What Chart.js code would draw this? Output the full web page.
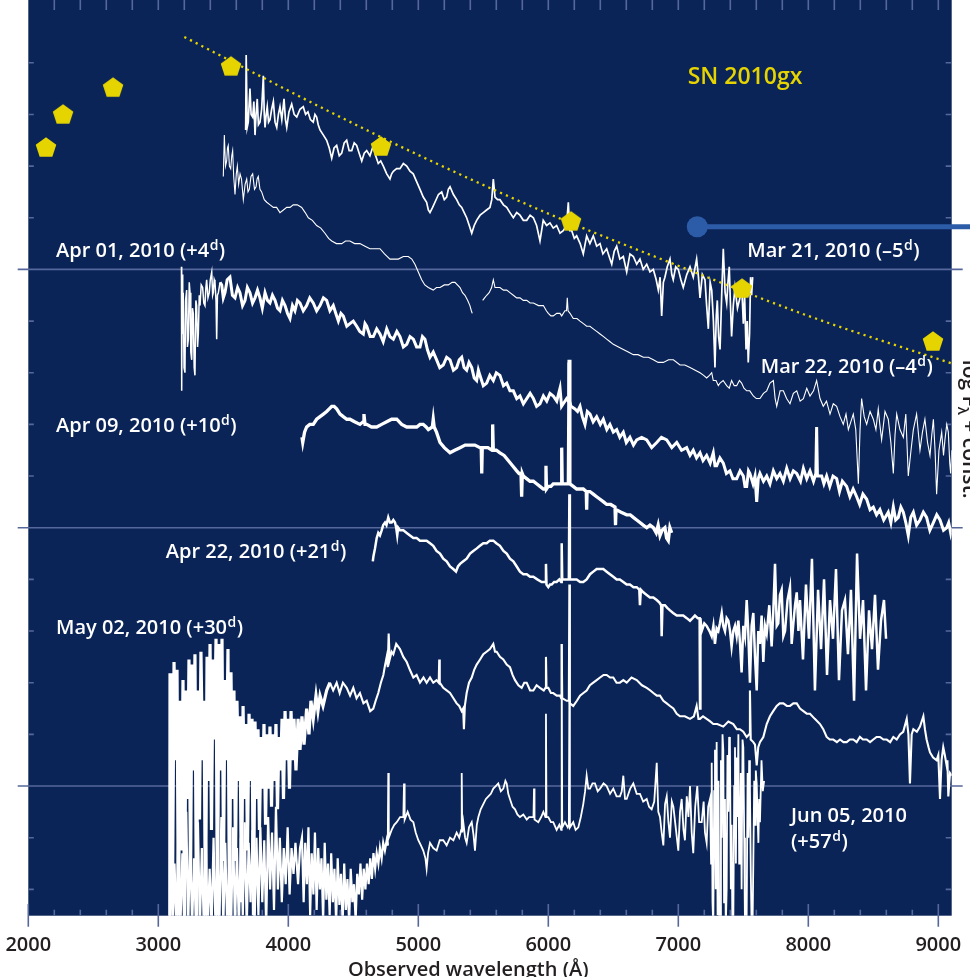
<!DOCTYPE html>
<html><head><meta charset="utf-8">
<script src="https://cdn.jsdelivr.net/npm/chart.js@4.4.1/dist/chart.umd.min.js"></script>
<style>html,body{margin:0;padding:0;background:#fff;}canvas{display:block;}</style>
</head><body>
<canvas id="c" width="970" height="977"></canvas>
<script>
// ---------------- DATA ----------------
// x: observed wavelength (Å), y: log F_lambda + const.
const wavelengthTicks = [2000, 3000, 4000, 5000, 6000, 7000, 8000, 9000];
const objectName = 'SN 2010gx';
const epochNames = ['Mar 21, 2010 (–5', 'Mar 22, 2010 (–4', 'Apr 01, 2010 (+4', 'Apr 09, 2010 (+10', 'Apr 22, 2010 (+21', 'May 02, 2010 (+30', 'Jun 05, 2010', '(+57'];

const photometry = [[2136,3.474],[2267,3.602],[2652,3.706],[3559,3.788],[4713,3.478],[6175,3.188],[7490,2.928],[8959,2.723]];
const fitCurve = [[3200,3.90],[3700,3.77],[4300,3.615],[5000,3.443],[6000,3.216],[7000,3.014],[8000,2.82],[9103,2.636]];
const markerLine = [[7146,3.165],[9300,3.165]];

const specMar21 = [[3672,3.54],[3676,3.83],[3684,3.55],[3692,3.57],[3705,3.70],[3714,3.60],[3726,3.59],[3735,3.65],[3744,3.52],[3752,3.60],[3761,3.66],[3770,3.56],[3782,3.57],[3795,3.62],[3808,3.75],[3815,3.60],[3821,3.55],[3830,3.60],[3838,3.63],[3848,3.57],[3859,3.58],[3872,3.62],[3885,3.65],[3898,3.57],[3911,3.55],[3924,3.60],[3936,3.63],[3950,3.58],[3967,3.66],[3978,3.58],[3988,3.55],[4005,3.61],[4026,3.64],[4045,3.60],[4065,3.59],[4090,3.62],[4115,3.63],[4133,3.60],[4151,3.61],[4170,3.58],[4192,3.57],[4205,3.60],[4218,3.59],[4230,3.56],[4244,3.54],[4270,3.52],[4295,3.50],[4315,3.47],[4334,3.43],[4352,3.47],[4372,3.48],[4392,3.44],[4411,3.45],[4430,3.49],[4449,3.50],[4468,3.46],[4488,3.46],[4507,3.49],[4526,3.48],[4545,3.45],[4565,3.42],[4584,3.45],[4603,3.46],[4628,3.44],[4654,3.48],[4672,3.44],[4692,3.41],[4711,3.42],[4731,3.40],[4757,3.37],[4782,3.35],[4795,3.37],[4808,3.38],[4833,3.39],[4859,3.39],[4885,3.41],[4911,3.40],[4936,3.38],[4961,3.37],[4987,3.34],[5013,3.31],[5038,3.28],[5064,3.26],[5077,3.23],[5090,3.22],[5110,3.24],[5128,3.26],[5155,3.29],[5180,3.30],[5200,3.27],[5218,3.28],[5231,3.31],[5244,3.32],[5270,3.29],[5295,3.27],[5315,3.25],[5334,3.24],[5353,3.22],[5372,3.20],[5392,3.17],[5411,3.14],[5430,3.17],[5449,3.19],[5475,3.21],[5500,3.22],[5525,3.23],[5551,3.24],[5565,3.27],[5577,3.35],[5590,3.28],[5610,3.27],[5628,3.27],[5655,3.25],[5680,3.24],[5705,3.22],[5731,3.20],[5757,3.22],[5782,3.21],[5808,3.19],[5834,3.19],[5860,3.21],[5885,3.20],[5910,3.17],[5936,3.11],[5961,3.19],[5987,3.17],[6013,3.18],[6038,3.16],[6064,3.17],[6090,3.14],[6115,3.15],[6140,3.17],[6154,3.26],[6165,3.15],[6180,3.15],[6200,3.12],[6218,3.13],[6245,3.10],[6269,3.06],[6295,3.13],[6320,3.10],[6346,3.13],[6372,3.09],[6398,3.10],[6420,3.06],[6449,3.08],[6468,3.05],[6488,3.02],[6507,3.07],[6526,3.09],[6550,3.04],[6577,3.05],[6603,2.99],[6628,3.06],[6654,3.05],[6680,3.02],[6705,3.04],[6730,3.00],[6757,3.02],[6782,2.99],[6808,3.00],[6830,2.96],[6846,2.92],[6860,2.97],[6872,2.82],[6885,2.95],[6897,2.97],[6915,3.01],[6936,3.04],[6950,2.98],[6961,2.96],[6980,3.01],[7000,3.00],[7020,2.96],[7038,2.93],[7065,2.98],[7090,3.01],[7115,2.97],[7141,3.04],[7155,2.97],[7167,2.89],[7185,2.98],[7205,2.96],[7218,2.86],[7231,2.77],[7245,2.95],[7257,2.92],[7270,2.80],[7282,2.62],[7292,2.82],[7300,2.88],[7310,2.74],[7321,2.69],[7335,2.92],[7346,3.08],[7360,2.91],[7372,2.87],[7382,2.95],[7392,3.01],[7400,2.88],[7410,2.74],[7423,2.86],[7436,2.93],[7455,2.85],[7474,2.89],[7487,2.95],[7500,2.79],[7510,2.90],[7521,2.69],[7530,2.80],[7538,2.64],[7548,2.75],[7556,2.97],[7564,2.90],[7572,2.97]];

const specMar22 = [[3500,3.36],[3508,3.52],[3517,3.40],[3526,3.42],[3532,3.47],[3538,3.48],[3547,3.40],[3557,3.39],[3565,3.44],[3572,3.46],[3580,3.36],[3590,3.29],[3600,3.37],[3608,3.40],[3618,3.33],[3629,3.37],[3640,3.35],[3654,3.27],[3668,3.33],[3680,3.35],[3690,3.30],[3700,3.31],[3713,3.36],[3726,3.37],[3740,3.31],[3752,3.32],[3760,3.35],[3769,3.36],[3782,3.31],[3795,3.30],[3815,3.27],[3834,3.26],[3860,3.25],[3885,3.24],[3910,3.24],[3936,3.22],[3962,3.23],[3988,3.24],[4013,3.24],[4038,3.25],[4069,3.25],[4103,3.24],[4130,3.22],[4154,3.20],[4185,3.19],[4218,3.17],[4250,3.16],[4282,3.14],[4310,3.12],[4334,3.11],[4370,3.10],[4411,3.10],[4440,3.11],[4474,3.11],[4510,3.10],[4551,3.10],[4590,3.09],[4628,3.08],[4665,3.08],[4705,3.08],[4740,3.06],[4782,3.04],[4815,3.04],[4846,3.04],[4885,3.05],[4923,3.05],[4950,3.04],[4974,3.02],[5000,2.99],[5026,2.96],[5050,2.94],[5077,2.93],[5115,2.92],[5140,2.93],[5167,2.93],[5200,2.94],[5231,2.94],[5260,2.95],[5282,2.95],[5321,2.93],[5340,2.91],[5359,2.90],[5380,2.88],[5397,2.86],[5408,2.84],[5415,2.83],[5455,null],[5495,2.88],[5510,2.89],[5526,2.90],[5545,2.91],[5564,2.93],[5577,2.96],[5590,2.93],[5610,2.93],[5628,2.93],[5655,2.92],[5680,2.92],[5705,2.91],[5731,2.90],[5757,2.89],[5782,2.89],[5808,2.88],[5834,2.88],[5860,2.87],[5885,2.87],[5925,2.86],[5962,2.86],[5985,2.84],[6000,2.83],[6020,2.82],[6038,2.82],[6065,2.83],[6090,2.83],[6103,2.82],[6128,2.84],[6140,2.84],[6146,2.89],[6152,2.84],[6167,2.83],[6192,2.81],[6220,2.81],[6244,2.80],[6270,2.79],[6295,2.78],[6320,2.78],[6346,2.77],[6372,2.76],[6398,2.75],[6425,2.74],[6449,2.73],[6475,2.72],[6500,2.71],[6540,2.70],[6577,2.69],[6615,2.68],[6654,2.67],[6690,2.67],[6731,2.66],[6770,2.66],[6808,2.65],[6845,2.64],[6885,2.64],[6925,2.65],[6962,2.65],[7013,2.63],[7050,2.63],[7090,2.62],[7130,2.61],[7167,2.60],[7195,2.59],[7218,2.58],[7240,2.59],[7257,2.60],[7269,2.57],[7290,2.57],[7308,2.55],[7321,2.56],[7345,2.57],[7372,2.55],[7392,2.54],[7410,2.57],[7430,2.55],[7449,2.55],[7470,2.57],[7487,2.56],[7505,2.54],[7526,2.53],[7550,2.53],[7577,2.51],[7600,2.50],[7628,2.50],[7655,2.52],[7680,2.53],[7705,2.56],[7731,2.57],[7745,2.50],[7757,2.47],[7783,2.53],[7808,2.53],[7833,2.50],[7859,2.48],[7885,2.52],[7911,2.53],[7937,2.49],[7962,2.50],[7988,2.54],[8013,2.51],[8040,2.53],[8064,2.57],[8090,2.50],[8115,2.47],[8140,2.49],[8167,2.44],[8192,2.48],[8218,2.47],[8244,2.43],[8269,2.40],[8290,2.44],[8308,2.38],[8327,2.41],[8346,2.44],[8365,2.38],[8385,2.17],[8398,2.38],[8410,2.50],[8430,2.43],[8449,2.40],[8475,2.45],[8500,2.42],[8520,2.38],[8538,2.46],[8550,2.40],[8564,2.34],[8590,2.45],[8615,2.42],[8635,2.33],[8654,2.21],[8667,2.36],[8680,2.44],[8705,2.38],[8731,2.35],[8750,2.44],[8769,2.20],[8790,2.30],[8808,2.38],[8833,2.44],[8859,2.30],[8878,2.37],[8897,2.42],[8917,2.33],[8936,2.28],[8950,2.36],[8962,2.42],[8975,2.30],[8987,2.13],[9005,2.30],[9026,2.37],[9040,2.28],[9051,2.34],[9065,2.40],[9077,2.37],[9088,2.25],[9095,2.21],[9103,2.30]];

const specApr01 = [[3178,3.01],[3180,2.53],[3184,2.98],[3188,2.75],[3192,2.91],[3198,2.62],[3205,2.60],[3210,2.88],[3218,2.92],[3224,2.70],[3231,2.73],[3238,2.95],[3244,2.91],[3250,2.68],[3257,2.65],[3263,2.85],[3269,2.83],[3276,2.62],[3282,2.59],[3289,2.88],[3295,2.86],[3302,2.70],[3308,2.75],[3315,2.90],[3321,2.86],[3330,2.94],[3341,2.93],[3350,2.87],[3359,2.86],[3366,2.93],[3372,2.96],[3382,2.89],[3392,2.91],[3400,2.96],[3411,2.99],[3418,2.90],[3423,2.91],[3430,2.96],[3436,2.95],[3444,2.88],[3449,2.73],[3455,2.90],[3462,2.91],[3475,2.95],[3488,2.94],[3500,2.89],[3513,2.91],[3530,2.96],[3551,2.97],[3570,2.90],[3590,2.89],[3610,2.93],[3628,2.91],[3648,2.86],[3667,2.88],[3685,2.93],[3705,2.91],[3725,2.87],[3744,2.89],[3763,2.92],[3782,2.89],[3800,2.85],[3821,2.91],[3840,2.88],[3859,2.87],[3878,2.90],[3898,2.88],[3917,2.85],[3936,2.84],[3955,2.88],[3975,2.86],[3994,2.83],[4013,2.81],[4032,2.86],[4051,2.84],[4070,2.88],[4090,2.87],[4115,2.84],[4141,2.86],[4165,2.89],[4192,2.87],[4218,2.84],[4244,2.86],[4270,2.89],[4295,2.88],[4320,2.84],[4346,2.86],[4365,2.83],[4385,2.80],[4405,2.83],[4423,2.82],[4450,2.78],[4474,2.79],[4500,2.80],[4526,2.78],[4550,2.76],[4577,2.75],[4590,2.79],[4603,2.78],[4630,2.74],[4654,2.74],[4680,2.77],[4705,2.75],[4730,2.72],[4757,2.77],[4782,2.74],[4808,2.73],[4835,2.76],[4859,2.74],[4885,2.70],[4911,2.71],[4936,2.74],[4962,2.73],[4987,2.70],[5013,2.70],[5032,2.74],[5051,2.73],[5070,2.69],[5090,2.66],[5115,2.68],[5141,2.65],[5165,2.62],[5192,2.63],[5218,2.66],[5244,2.65],[5270,2.61],[5295,2.62],[5315,2.65],[5334,2.66],[5352,2.62],[5372,2.61],[5390,2.64],[5411,2.62],[5430,2.58],[5449,2.57],[5462,2.61],[5474,2.59],[5500,2.55],[5526,2.56],[5550,2.59],[5577,2.57],[5600,2.60],[5628,2.59],[5655,2.55],[5680,2.56],[5705,2.53],[5731,2.53],[5757,2.50],[5782,2.51],[5808,2.48],[5834,2.50],[5860,2.52],[5885,2.50],[5910,2.47],[5936,2.48],[5962,2.51],[5988,2.49],[6013,2.52],[6038,2.51],[6065,2.49],[6090,2.54],[6102,2.47],[6115,2.48],[6141,2.50],[6155,2.49],[6159,2.64],[6163,2.49],[6175,2.47],[6205,2.46],[6225,2.45],[6244,2.47],[6262,2.43],[6282,2.40],[6300,2.45],[6321,2.44],[6345,2.41],[6372,2.43],[6400,2.40],[6423,2.42],[6450,2.38],[6474,2.40],[6500,2.37],[6526,2.38],[6550,2.35],[6577,2.37],[6600,2.33],[6628,2.35],[6655,2.32],[6680,2.34],[6718,2.35],[6757,2.34],[6795,2.31],[6834,2.33],[6870,2.35],[6911,2.34],[6950,2.31],[6988,2.33],[7025,2.30],[7064,2.31],[7090,2.28],[7115,2.30],[7140,2.27],[7167,2.29],[7190,2.26],[7218,2.28],[7245,2.25],[7269,2.29],[7282,2.24],[7295,2.24],[7320,2.27],[7346,2.25],[7370,2.21],[7397,2.22],[7420,2.19],[7449,2.19],[7475,2.22],[7500,2.20],[7513,2.16],[7526,2.16],[7540,2.22],[7551,2.21],[7575,2.17],[7590,2.20],[7603,2.10],[7615,2.19],[7628,2.21],[7655,2.18],[7680,2.20],[7705,2.17],[7731,2.22],[7757,2.19],[7782,2.21],[7808,2.18],[7834,2.23],[7860,2.19],[7885,2.22],[7911,2.21],[7940,2.18],[7962,2.23],[7988,2.19],[8013,2.22],[8040,2.18],[8058,2.21],[8064,2.39],[8070,2.20],[8103,2.20],[8120,2.17],[8141,2.20],[8165,2.16],[8190,2.20],[8218,2.19],[8240,2.14],[8262,2.18],[8295,2.16],[8320,2.12],[8345,2.15],[8372,2.12],[8395,2.09],[8420,2.13],[8449,2.11],[8475,2.07],[8500,2.08],[8525,2.05],[8551,2.07],[8580,2.03],[8615,2.06],[8635,2.02],[8654,2.08],[8672,2.03],[8692,2.04],[8712,2.08],[8731,2.06],[8750,2.02],[8769,1.97],[8788,2.04],[8808,2.06],[8833,2.01],[8859,2.03],[8885,2.06],[8910,2.04],[8935,1.99],[8962,2.02],[8988,2.05],[9013,2.03],[9040,1.99],[9064,2.00],[9080,2.02],[9095,1.98],[9103,2.00]];

const specApr09 = [[4105,2.35],[4111,2.33],[4125,2.37],[4141,2.39],[4165,2.40],[4192,2.40],[4218,2.42],[4244,2.43],[4270,2.44],[4295,2.45],[4315,2.46],[4334,2.47],[4352,2.47],[4372,2.46],[4398,2.44],[4423,2.43],[4450,2.42],[4474,2.42],[4510,2.41],[4551,2.40],[4575,2.41],[4582,2.44],[4590,2.40],[4603,2.40],[4640,2.39],[4680,2.39],[4718,2.40],[4757,2.41],[4795,2.42],[4834,2.42],[4872,2.40],[4911,2.39],[4950,2.39],[4988,2.39],[5013,2.40],[5038,2.40],[5060,2.39],[5077,2.38],[5108,2.39],[5115,2.42],[5122,2.39],[5140,2.37],[5167,2.33],[5200,2.31],[5244,2.29],[5280,2.30],[5321,2.31],[5360,2.32],[5397,2.32],[5435,2.32],[5474,2.31],[5484,2.31],[5488,2.21],[5492,2.31],[5500,2.31],[5535,2.31],[5568,2.30],[5572,2.40],[5577,2.30],[5600,2.30],[5628,2.29],[5660,2.28],[5692,2.26],[5725,2.24],[5757,2.22],[5775,2.21],[5790,2.21],[5795,2.12],[5800,2.21],[5808,2.20],[5833,2.19],[5859,2.18],[5885,2.18],[5910,2.17],[5936,2.16],[5962,2.15],[5978,2.15],[5982,2.24],[5986,2.15],[6000,2.16],[6020,2.16],[6038,2.17],[6065,2.17],[6090,2.17],[6099,2.17],[6103,2.31],[6107,2.17],[6130,2.17],[6154,2.17],[6160,2.65],[6166,2.17],[6192,2.16],[6218,2.15],[6245,2.15],[6269,2.15],[6292,2.14],[6295,2.07],[6298,2.14],[6320,2.14],[6346,2.13],[6372,2.12],[6398,2.11],[6425,2.10],[6449,2.09],[6480,2.09],[6513,2.08],[6517,2.01],[6521,2.07],[6560,2.06],[6603,2.05],[6630,2.05],[6654,2.04],[6680,2.03],[6705,2.02],[6730,2.01],[6757,2.00],[6782,2.01],[6808,2.00],[6830,1.98],[6845,2.01],[6859,1.97],[6875,1.99],[6897,2.00],[6910,1.96],[6923,1.95],[6935,2.00],[6949,1.98]];

const specApr22 = [[4650,1.87],[4655,1.89],[4667,1.92],[4680,1.96],[4692,1.98],[4705,1.97],[4718,1.99],[4730,2.01],[4744,2.02],[4755,2.01],[4769,2.04],[4782,2.02],[4795,2.02],[4808,2.03],[4821,2.02],[4830,2.00],[4838,1.97],[4845,2.00],[4859,1.99],[4885,1.99],[4911,1.98],[4936,1.97],[4962,1.96],[4987,1.96],[5013,1.95],[5038,1.95],[5064,1.95],[5090,1.94],[5115,1.93],[5140,1.91],[5167,1.90],[5192,1.88],[5218,1.87],[5244,1.85],[5269,1.84],[5290,1.83],[5305,1.85],[5321,1.86],[5346,1.87],[5372,1.88],[5398,1.90],[5423,1.91],[5450,1.92],[5474,1.93],[5500,1.94],[5526,1.94],[5550,1.95],[5577,1.95],[5600,1.94],[5628,1.93],[5655,1.91],[5680,1.90],[5705,1.88],[5731,1.87],[5757,1.85],[5782,1.83],[5808,1.82],[5834,1.82],[5860,1.81],[5885,1.81],[5915,1.80],[5949,1.79],[5978,1.79],[5982,1.86],[5986,1.78],[6000,1.77],[6013,1.78],[6026,1.78],[6045,1.79],[6064,1.79],[6085,1.80],[6099,1.79],[6103,1.94],[6107,1.80],[6125,1.80],[6141,1.80],[6158,1.80],[6162,2.13],[6166,1.80],[6180,1.80],[6200,1.80],[6218,1.80],[6245,1.79],[6269,1.79],[6295,1.80],[6321,1.82],[6346,1.83],[6372,1.84],[6398,1.84],[6423,1.84],[6449,1.83],[6474,1.82],[6500,1.81],[6526,1.80],[6550,1.80],[6577,1.79],[6603,1.78],[6628,1.78],[6655,1.77],[6680,1.77],[6700,1.76],[6705,1.70],[6712,1.76],[6731,1.75],[6757,1.74],[6782,1.73],[6808,1.73],[6834,1.72],[6855,1.71],[6868,1.70],[6872,1.58],[6878,1.70],[6897,1.70],[6915,1.69],[6936,1.68],[6960,1.67],[6988,1.66],[7013,1.66],[7038,1.66],[7065,1.65],[7090,1.64],[7110,1.65],[7128,1.66],[7150,1.65],[7164,1.65],[7167,1.30],[7170,1.65],[7180,1.60],[7200,1.63],[7218,1.62],[7240,1.60],[7257,1.58],[7270,1.62],[7282,1.55],[7295,1.61],[7308,1.60],[7320,1.63],[7334,1.67],[7346,1.62],[7359,1.60],[7372,1.65],[7385,1.64],[7398,1.60],[7410,1.54],[7423,1.60],[7436,1.62],[7449,1.58],[7462,1.64],[7475,1.55],[7487,1.44],[7500,1.62],[7513,1.58],[7526,1.72],[7538,1.60],[7551,1.40],[7564,1.62],[7577,1.67],[7590,1.50],[7603,1.37],[7615,1.60],[7628,1.55],[7641,1.66],[7654,1.48],[7667,1.62],[7680,1.59],[7700,1.70],[7718,1.54],[7731,1.68],[7744,1.86],[7757,1.62],[7769,1.63],[7782,1.74],[7795,1.76],[7808,1.58],[7821,1.60],[7840,1.72],[7859,1.77],[7872,1.55],[7885,1.63],[7898,1.70],[7911,1.75],[7924,1.60],[7936,1.72],[7959,1.49],[7982,1.78],[8005,1.57],[8028,1.88],[8051,1.37],[8075,1.76],[8098,1.53],[8121,1.80],[8144,1.43],[8167,1.72],[8190,1.57],[8213,1.84],[8236,1.41],[8259,1.68],[8282,1.72],[8305,1.51],[8328,1.76],[8352,1.33],[8375,1.90],[8398,1.57],[8421,1.72],[8444,1.37],[8467,1.68],[8490,1.53],[8513,1.74],[8536,1.45],[8559,1.64],[8582,1.72],[8598,1.57]];

const specMay02 = [[3088,0.45],[3090,1.43],[3098,1.43],[3109,0.56],[3121,1.48],[3132,1.10],[3144,1.45],[3155,0.45],[3167,1.33],[3178,0.75],[3190,1.41],[3202,0.45],[3213,1.37],[3225,0.95],[3236,1.49],[3248,0.64],[3259,1.47],[3271,1.06],[3282,1.51],[3294,0.45],[3305,1.37],[3317,0.87],[3328,1.52],[3340,1.10],[3352,1.33],[3363,0.45],[3375,1.50],[3386,1.02],[3398,1.55],[3409,0.83],[3421,1.49],[3432,1.18],[3444,1.57],[3455,0.45],[3467,1.55],[3479,1.06],[3490,1.57],[3502,0.71],[3513,1.41],[3525,1.10],[3536,1.53],[3548,0.45],[3559,1.44],[3571,0.95],[3582,1.37],[3594,0.71],[3605,1.33],[3617,1.02],[3628,1.27],[3640,0.55],[3652,1.31],[3663,0.95],[3675,1.24],[3686,0.75],[3698,1.28],[3709,1.02],[3721,1.26],[3732,0.50],[3744,1.25],[3755,0.95],[3767,1.22],[3778,0.83],[3790,1.19],[3802,0.99],[3813,1.24],[3825,0.85],[3836,1.20],[3848,0.99],[3859,1.23],[3871,0.92],[3882,1.20],[3894,1.02],[3905,1.24],[3917,0.91],[3928,1.19],[3940,1.06],[3952,1.26],[3963,0.95],[3975,1.29],[3986,1.10],[3998,1.26],[4009,0.99],[4021,1.29],[4032,1.10],[4044,1.26],[4059,1.06],[4075,1.26],[4090,1.14],[4105,1.27],[4121,1.16],[4141,1.30],[4159,1.20],[4174,1.33],[4192,1.26],[4213,1.35],[4228,1.29],[4244,1.35],[4267,1.31],[4295,1.37],[4320,1.40],[4345,1.37],[4372,1.40],[4395,1.36],[4420,1.40],[4449,1.38],[4475,1.35],[4500,1.38],[4525,1.34],[4551,1.36],[4578,1.32],[4603,1.33],[4630,1.29],[4654,1.30],[4672,1.33],[4692,1.36],[4712,1.40],[4731,1.43],[4745,1.47],[4757,1.50],[4765,1.46],[4772,1.59],[4780,1.49],[4795,1.52],[4808,1.51],[4830,1.55],[4859,1.53],[4885,1.50],[4911,1.48],[4935,1.45],[4962,1.42],[4987,1.43],[5013,1.40],[5040,1.42],[5064,1.40],[5090,1.42],[5115,1.40],[5140,1.41],[5157,1.40],[5161,1.49],[5165,1.40],[5192,1.38],[5218,1.37],[5244,1.36],[5270,1.34],[5295,1.32],[5315,1.31],[5334,1.29],[5345,1.30],[5351,1.22],[5358,1.31],[5372,1.36],[5390,1.40],[5411,1.42],[5430,1.45],[5449,1.47],[5475,1.49],[5500,1.51],[5525,1.52],[5551,1.53],[5577,1.55],[5590,1.52],[5603,1.52],[5628,1.50],[5654,1.49],[5680,1.47],[5705,1.46],[5725,1.43],[5744,1.41],[5770,1.39],[5795,1.38],[5815,1.40],[5834,1.40],[5860,1.37],[5885,1.37],[5910,1.39],[5936,1.38],[5965,1.37],[5978,1.38],[5982,1.50],[5986,1.38],[6000,1.38],[6020,1.36],[6038,1.36],[6065,1.35],[6090,1.35],[6099,1.34],[6103,1.55],[6107,1.34],[6141,1.33],[6158,1.33],[6162,1.78],[6166,1.32],[6192,1.31],[6220,1.33],[6244,1.35],[6270,1.36],[6295,1.37],[6320,1.39],[6346,1.40],[6372,1.41],[6398,1.42],[6425,1.43],[6449,1.43],[6475,1.42],[6500,1.42],[6525,1.40],[6551,1.40],[6577,1.41],[6603,1.40],[6640,1.42],[6680,1.41],[6720,1.39],[6757,1.38],[6785,1.37],[6808,1.36],[6835,1.35],[6859,1.35],[6885,1.33],[6911,1.32],[6936,1.31],[6962,1.30],[6988,1.28],[7013,1.27],[7050,1.27],[7090,1.26],[7120,1.27],[7141,1.31],[7155,1.26],[7167,1.26],[7190,1.27],[7218,1.26],[7245,1.25],[7269,1.24],[7300,1.24],[7346,1.23],[7385,1.25],[7423,1.24],[7450,1.22],[7474,1.22],[7500,1.21],[7526,1.19],[7545,1.20],[7551,1.37],[7557,1.18],[7577,1.17],[7590,1.16],[7603,1.08],[7615,1.15],[7628,1.17],[7654,1.19],[7680,1.24],[7705,1.27],[7730,1.29],[7757,1.31],[7780,1.32],[7808,1.32],[7835,1.31],[7859,1.31],[7885,1.32],[7911,1.32],[7936,1.30],[7962,1.29],[7988,1.28],[8013,1.28],[8050,1.26],[8090,1.24],[8115,1.22],[8141,1.19],[8165,1.18],[8192,1.18],[8220,1.17],[8244,1.18],[8270,1.17],[8295,1.17],[8320,1.18],[8346,1.18],[8372,1.17],[8397,1.19],[8420,1.18],[8449,1.18],[8475,1.17],[8500,1.18],[8525,1.19],[8551,1.19],[8578,1.18],[8603,1.18],[8630,1.17],[8654,1.19],[8680,1.18],[8705,1.20],[8730,1.21],[8757,1.26],[8770,1.20],[8782,1.01],[8795,1.20],[8808,1.22],[8835,1.21],[8859,1.23],[8885,1.27],[8897,1.22],[8910,1.18],[8925,1.15],[8936,1.13],[8960,1.11],[8987,1.10],[9000,1.12],[9013,0.95],[9025,1.10],[9038,1.15],[9050,1.12],[9064,1.08],[9070,1.10],[9077,0.96],[9090,1.05],[9103,1.04]];

const specJun05 = [[3090,0.45],[3100,0.78],[3112,0.45],[3125,0.70],[3140,0.45],[3155,0.85],[3170,0.45],[3185,0.74],[3200,0.45],[3215,0.90],[3230,0.45],[3245,0.80],[3260,0.45],[3275,0.72],[3290,0.45],[3305,0.86],[3320,0.45],[3335,0.76],[3350,0.45],[3365,0.82],[3380,0.45],[3395,0.68],[3410,0.45],[3425,0.80],[3440,0.45],[3455,0.75],[3470,0.45],[3485,0.88],[3500,0.45],[3515,0.78],[3530,0.45],[3545,0.70],[3560,0.45],[3575,0.84],[3590,0.45],[3605,0.76],[3620,0.45],[3635,0.80],[3650,0.50],[3665,0.86],[3680,0.45],[3695,0.78],[3710,0.55],[3725,0.83],[3740,0.45],[3755,0.80],[3770,0.50],[3785,0.84],[3800,0.55],[3815,0.79],[3830,0.45],[3845,0.88],[3860,0.60],[3875,0.82],[3890,0.52],[3905,0.92],[3920,0.60],[3935,0.80],[3950,0.55],[3965,0.76],[3980,0.62],[3995,0.84],[4010,0.58],[4025,0.76],[4040,0.66],[4055,0.78],[4075,0.62],[4090,0.76],[4105,0.80],[4118,0.55],[4130,0.78],[4143,0.62],[4155,0.84],[4168,0.50],[4180,0.74],[4193,0.58],[4205,0.82],[4218,0.52],[4230,0.76],[4243,0.60],[4255,0.72],[4268,0.48],[4280,0.78],[4293,0.56],[4305,0.70],[4318,0.50],[4330,0.74],[4343,0.55],[4355,0.68],[4368,0.47],[4380,0.72],[4393,0.54],[4405,0.66],[4418,0.47],[4430,0.70],[4443,0.52],[4455,0.64],[4468,0.47],[4480,0.68],[4493,0.55],[4505,0.62],[4518,0.48],[4530,0.66],[4543,0.58],[4555,0.70],[4568,0.56],[4580,0.68],[4593,0.60],[4605,0.70],[4618,0.62],[4630,0.72],[4643,0.64],[4655,0.74],[4668,0.68],[4680,0.74],[4693,0.70],[4705,0.76],[4718,0.72],[4730,0.78],[4743,0.75],[4757,0.79],[4765,0.77],[4769,1.05],[4773,0.80],[4795,0.83],[4815,0.85],[4834,0.86],[4860,0.88],[4885,0.88],[4890,1.01],[4895,0.87],[4918,0.90],[4940,0.87],[4962,0.86],[4980,0.82],[5000,0.79],[5020,0.77],[5038,0.75],[5055,0.72],[5064,0.68],[5075,0.74],[5090,0.78],[5115,0.76],[5141,0.75],[5165,0.79],[5192,0.79],[5218,0.77],[5244,0.80],[5270,0.79],[5295,0.82],[5315,0.80],[5330,0.83],[5334,1.05],[5338,0.82],[5346,0.86],[5360,0.80],[5372,0.78],[5390,0.84],[5411,0.86],[5425,0.81],[5436,0.75],[5450,0.85],[5462,0.88],[5480,0.91],[5500,0.93],[5520,0.95],[5539,0.96],[5558,0.97],[5577,0.99],[5596,1.00],[5615,1.01],[5635,0.98],[5654,0.99],[5670,1.02],[5680,1.01],[5692,0.97],[5705,0.95],[5725,0.92],[5744,0.91],[5762,0.89],[5782,0.88],[5808,0.89],[5834,0.87],[5852,0.88],[5872,0.88],[5886,0.88],[5890,0.99],[5894,0.87],[5923,0.86],[5945,0.88],[5962,0.90],[5978,0.88],[5982,1.28],[5986,0.88],[6000,0.88],[6020,0.86],[6038,0.86],[6064,0.83],[6085,0.85],[6099,0.83],[6103,1.55],[6107,0.84],[6128,0.86],[6150,0.84],[6158,0.85],[6162,1.33],[6166,0.84],[6192,0.86],[6210,0.83],[6231,0.84],[6250,0.88],[6269,0.93],[6283,0.98],[6295,1.04],[6308,0.99],[6321,0.99],[6340,1.01],[6359,1.01],[6380,0.98],[6398,0.99],[6425,1.01],[6449,1.00],[6475,0.97],[6500,0.99],[6525,0.96],[6551,0.96],[6565,0.98],[6577,1.04],[6590,0.95],[6603,0.95],[6630,0.99],[6654,1.01],[6680,0.97],[6705,0.97],[6730,0.94],[6757,0.95],[6775,0.92],[6795,0.91],[6815,0.94],[6834,1.09],[6846,0.90],[6859,0.88],[6872,0.82],[6885,0.77],[6898,0.93],[6911,0.96],[6924,0.86],[6936,0.80],[6950,0.94],[6962,0.92],[6980,0.84],[7000,0.75],[7013,0.90],[7026,0.95],[7040,0.83],[7051,0.79],[7065,0.96],[7078,0.88],[7090,1.00],[7103,0.82],[7115,0.74],[7130,0.92],[7146,1.00],[7160,0.86],[7180,0.86],[7195,0.94],[7205,0.82],[7218,0.78],[7230,0.92],[7244,0.95],[7252,0.70],[7257,1.09],[7263,0.55],[7269,0.45],[7276,0.98],[7282,1.14],[7288,0.60],[7295,1.17],[7302,0.50],[7309,1.02],[7315,0.45],[7321,0.45],[7328,1.10],[7334,0.80],[7340,1.20],[7346,1.14],[7352,0.55],[7359,0.95],[7365,0.45],[7372,0.60],[7378,1.12],[7385,0.90],[7391,1.19],[7397,1.17],[7404,0.60],[7410,0.85],[7416,0.45],[7423,0.45],[7430,1.00],[7436,1.15],[7443,0.70],[7449,1.11],[7455,0.88],[7462,1.20],[7468,0.70],[7474,0.73],[7481,1.05],[7487,0.60],[7494,1.18],[7500,1.15],[7507,0.80],[7513,0.45],[7520,0.45],[7526,0.50],[7533,1.05],[7539,0.80],[7545,1.10],[7551,0.99],[7558,0.65],[7564,0.45],[7571,0.45],[7577,0.70],[7584,1.02],[7590,0.85],[7596,1.06],[7603,1.01],[7610,0.88],[7616,0.78],[7622,0.95],[7628,0.86],[7640,1.10],[7650,0.98],[7660,1.02]];

// ---------------- STYLE ----------------
const NAVY = '#0b2457';
const TICK = '#56679c';
const WHITE = '#ffffff';
const YELLOW = '#e6d400';
const BLUE = '#2c5ca8';
const INK = '#231f20';
const FONT = '"Open Sans", "Noto Sans", sans-serif';

function pentagon(r, color) {
  const s = Math.ceil(2 * r + 2);
  const c = document.createElement('canvas');
  c.width = s; c.height = s;
  const g = c.getContext('2d');
  const cx = s / 2, cy = s / 2 + r * (1 - Math.cos(Math.PI / 5)) / 2;
  g.fillStyle = color;
  g.beginPath();
  for (let i = 0; i < 5; i++) {
    const a = -Math.PI / 2 + i * 2 * Math.PI / 5;
    const px = cx + r * Math.cos(a), py = cy + r * Math.sin(a);
    if (i === 0) g.moveTo(px, py); else g.lineTo(px, py);
  }
  g.closePath(); g.fill();
  return c;
}

const toXY = pairs => pairs.map(p => ({x: p[0], y: p[1]}));
// noisyBelow: wavelength below which the (very noisy) blue end is drawn with a different stroke
function spectrum(pairs, width, noisyBelow, noisyWidth) {
  const ds = {data: toXY(pairs), showLine: true, borderColor: WHITE, borderWidth: width,
    pointRadius: 0, pointHoverRadius: 0, tension: 0, spanGaps: false, borderJoinStyle: 'miter'};
  if (noisyBelow) {
    ds.segment = {borderWidth: c => (c.p0.parsed.x < noisyBelow ? noisyWidth : width)};
  }
  return ds;
}

function drawSupLabel(ctx, x, y, main, sup, tail, color, size) {
  ctx.fillStyle = color;
  ctx.textAlign = 'left';
  ctx.textBaseline = 'alphabetic';
  ctx.font = '600 ' + size + 'px ' + FONT;
  ctx.fillText(main, x, y);
  let w = ctx.measureText(main).width;
  if (sup) {
    ctx.font = '600 ' + Math.round(size * 0.72) + 'px ' + FONT;
    ctx.fillText(sup, x + w + 0.5, y - 7);
    w += ctx.measureText(sup).width + 1;
    ctx.font = '600 ' + size + 'px ' + FONT;
    ctx.fillText(tail, x + w, y);
  }
}

const framePlugin = {
  id: 'frame',
  beforeDraw(chart) {
    const {ctx, chartArea: a} = chart;
    ctx.save();
    ctx.fillStyle = '#ffffff';
    ctx.fillRect(0, 0, chart.width, chart.height);
    ctx.fillStyle = NAVY;
    ctx.fillRect(a.left, a.top, a.right - a.left, a.bottom - a.top);
    ctx.restore();
  },
  beforeDatasetsDraw(chart) {
    const {ctx, chartArea: a, scales} = chart;
    const xs = scales.x, ys = scales.y;
    ctx.save();
    ctx.strokeStyle = TICK;
    ctx.lineWidth = 1.6;
    ctx.beginPath();
    for (let k = 0; k <= 35; k++) {
      const v = 2000 + 200 * k;
      const px = xs.getPixelForValue(v);
      if (px > a.right + 0.5) break;
      const major = (v % 1000) === 0;
      if (major) {
        ctx.moveTo(px, a.bottom - 11.7); ctx.lineTo(px, a.bottom + 11);
      } else {
        ctx.moveTo(px, a.bottom - 6); ctx.lineTo(px, a.bottom);
      }
      if (k > 0) { ctx.moveTo(px, a.top); ctx.lineTo(px, a.top + 10); }
    }
    for (let k = 3; k <= 19; k++) {
      const v = k / 5;
      const py = ys.getPixelForValue(v);
      if (k % 5 === 0) {
        ctx.moveTo(a.left - 10.6, py); ctx.lineTo(a.right + 11, py);
      } else {
        ctx.moveTo(a.left, py); ctx.lineTo(a.left + 5.5, py);
        ctx.moveTo(a.right - 6, py); ctx.lineTo(a.right, py);
      }
    }
    ctx.stroke();
    ctx.restore();
  },
  afterDatasetsDraw(chart) {
    const {ctx, scales} = chart;
    const xs = scales.x, ys = scales.y;
    const P = (w, f) => [xs.getPixelForValue(w), ys.getPixelForValue(f)];
    ctx.save();
    let p;
    p = P(7072, 3.718); drawSupLabel(ctx, p[0], p[1], objectName, null, null, YELLOW, 23);
    p = P(7531, 3.048); drawSupLabel(ctx, p[0], p[1], epochNames[0], 'd', ')', WHITE, 20);
    p = P(7634, 2.598); drawSupLabel(ctx, p[0], p[1], epochNames[1], 'd', ')', WHITE, 20);
    p = P(2213, 3.048); drawSupLabel(ctx, p[0], p[1], epochNames[2], 'd', ')', WHITE, 20);
    p = P(2213, 2.372); drawSupLabel(ctx, p[0], p[1], epochNames[3], 'd', ')', WHITE, 20);
    p = P(3057, 1.882); drawSupLabel(ctx, p[0], p[1], epochNames[4], 'd', ')', WHITE, 20);
    p = P(2213, 1.589); drawSupLabel(ctx, p[0], p[1], epochNames[5], 'd', ')', WHITE, 20);
    p = P(7867, 0.862); drawSupLabel(ctx, p[0], p[1], epochNames[6], null, null, WHITE, 20);
    p = P(7867, 0.759); drawSupLabel(ctx, p[0], p[1], epochNames[7], 'd', ')', WHITE, 20);
    ctx.restore();
  },
  afterDraw(chart) {
    const {ctx, chartArea: a, scales} = chart;
    const xs = scales.x, ys = scales.y;
    ctx.save();
    ctx.fillStyle = INK;
    // x tick labels
    ctx.font = '600 20px ' + FONT;
    ctx.textAlign = 'center';
    ctx.textBaseline = 'alphabetic';
    wavelengthTicks.forEach(v => ctx.fillText(String(v), xs.getPixelForValue(v), a.bottom + 35));
    // x-axis title
    ctx.fillText('Observed wavelength (Å)', xs.getPixelForValue(5384), a.bottom + 60.3);
    // right y-axis title (rotated, partly cut by the page edge)
    ctx.translate(a.right + 11.5, ys.getPixelForValue(2.65));
    ctx.rotate(Math.PI / 2);
    ctx.textAlign = 'left';
    ctx.font = '600 21px ' + FONT;
    ctx.fillText('log F', 0, 0);
    let w = ctx.measureText('log F').width;
    ctx.font = '600 14px ' + FONT;
    ctx.fillText('λ', w, 5);
    w += ctx.measureText('λ').width;
    ctx.font = '600 21px ' + FONT;
    ctx.fillText(' + const.', w, 0);
    ctx.restore();
  }
};

function build() {
  const pent = pentagon(10.8, YELLOW);
  const datasets = [
    {data: toXY(markerLine), showLine: true, borderColor: BLUE, borderWidth: 5,
      pointRadius: [10.5, 0], pointBackgroundColor: BLUE, pointBorderWidth: 0, clip: false},
    {data: toXY(photometry), showLine: false, pointStyle: pent, pointRadius: 10.8},
    {data: toXY(fitCurve), showLine: true, borderColor: YELLOW, borderWidth: 2.3,
      borderDash: [2.2, 4.2], pointRadius: 0, cubicInterpolationMode: 'monotone'},
    spectrum(specMar21, 1.7),
    spectrum(specMar22, 1.1),
    spectrum(specApr01, 3.0, 3470, 1.5),
    spectrum(specApr09, 3.3),
    spectrum(specApr22, 2.5),
    spectrum(specMay02, 2.1, 4300, 3.2),
    spectrum(specJun05, 1.8, 4760, 2.2)
  ];
  new Chart(document.getElementById('c'), {
    type: 'scatter',
    data: {datasets},
    options: {
      responsive: false,
      animation: false,
      devicePixelRatio: 1,
      events: [],
      layout: {autoPadding: false, padding: {top: 0, left: 0, right: 0, bottom: 0}},
      plugins: {legend: {display: false}, tooltip: {enabled: false}, title: {display: false}},
      scales: {
        x: {
          type: 'linear', position: 'bottom', min: 2000, max: 9103,
          grid: {display: false, drawTicks: false}, border: {display: false},
          ticks: {display: false},
          afterFit: s => { s.height = 61.3; }
        },
        y: {
          type: 'linear', position: 'left', min: 0.498, max: 4.043,
          grid: {display: false, drawTicks: false}, border: {display: false},
          ticks: {display: false},
          afterFit: s => { s.width = 28.3; }
        },
        y2: {
          type: 'linear', position: 'right', min: 0.498, max: 4.043,
          grid: {display: false, drawTicks: false}, border: {display: false},
          ticks: {display: false},
          afterFit: s => { s.width = 18.3; }
        }
      }
    },
    plugins: [framePlugin]
  });
}

if (document.fonts && document.fonts.load) {
  Promise.all([
    document.fonts.load('600 20px "Open Sans"'),
    document.fonts.load('600 14px "Open Sans"')
  ]).then(build, build);
} else { build(); }
</script>
</body></html>
